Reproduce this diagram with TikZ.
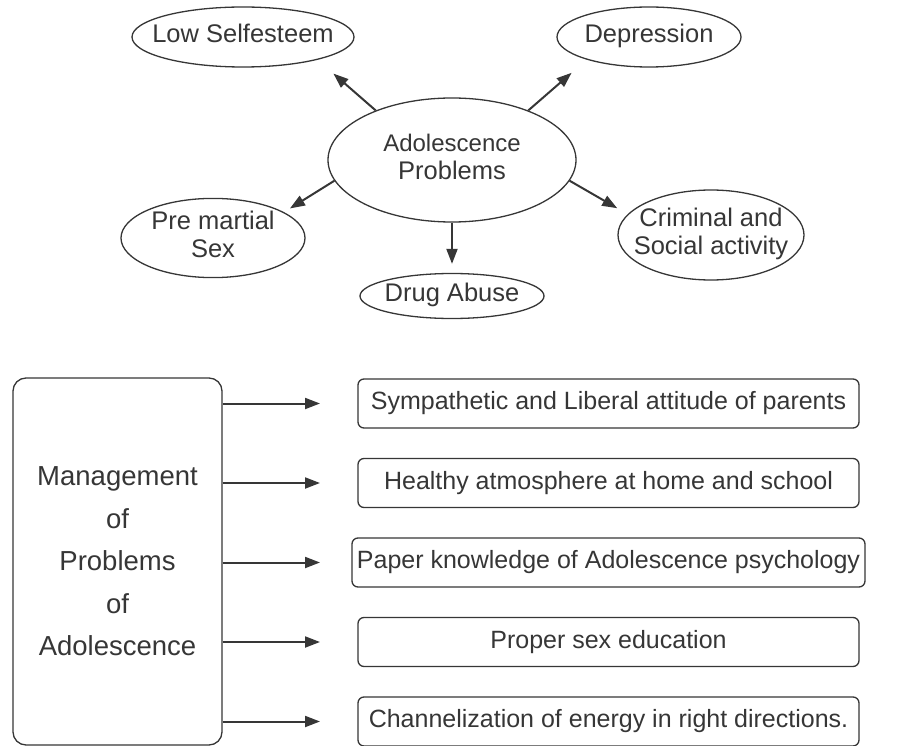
\documentclass[tikz,border=0pt]{standalone}
\usepackage{fontspec}
\setmainfont{Liberation Sans}
\usetikzlibrary{shapes,arrows.meta}
\definecolor{ink}{HTML}{363636}
\newcommand{\inell}[1]{\makebox[0pt]{\begin{tabular}{@{}c@{}}#1\end{tabular}}}
\tikzstyle{problem}=[ellipse,
	line width=1.3pt,
	draw=ink,
	text=ink,
	inner sep=0pt,
	font=\fontsize{25.5}{28}\selectfont]
\tikzstyle{remedy}=[rectangle,
	rounded corners=6pt,
	line width=1.3pt,
	draw=ink,
	text=ink,
	minimum width=501pt,
	minimum height=49pt,
	font=\fontsize{25}{28}\selectfont]
\tikzstyle{manage}=[rectangle,
	rounded corners=13pt,
	line width=1.3pt,
	draw=ink,
	text=ink,
	minimum width=209pt,
	minimum height=367pt,
	align=center,
	font=\fontsize{27.5}{42.5}\selectfont]
\tikzstyle{arr}=[-{Triangle[length=15pt,width=11pt]},
	line width=2pt,
	draw=ink]

\begin{document}
\begin{tikzpicture}[x=1pt,y=-1pt]
	\useasboundingbox (0,0) rectangle (913,746);

	% problems
	\node (adol) [problem, minimum width=248pt, minimum height=124pt] at (452,160) {\inell{\fontsize{24}{27}\selectfont Adolescence\\Problems}};
	\node (low) [problem, minimum width=222pt, minimum height=60pt] at (243,37) {\inell{Low Selfesteem}};
	\node (depr) [problem, minimum width=184pt, minimum height=60pt] at (649,37) {\inell{Depression}};
	\node (premarital) [problem, minimum width=184pt, minimum height=74pt] at (213,238) {\inell{Pre martial\\Sex}};
	\node (drug) [problem, minimum width=184pt, minimum height=45pt] at (452,296) {\inell{Drug Abuse}};
	\node (crime) [problem, minimum width=186pt, minimum height=90pt] at (711,235) {\inell{Criminal and\\Social activity}};

	\draw[arr, shorten >=21pt] (adol.147) -- (low.-17);
	\draw[arr, shorten >=20pt] (adol.33) -- (depr.200);
	\draw[arr, shorten >=7pt] (adol.190) -- (premarital.20);
	\draw[arr, shorten >=9pt] (adol.south) -- (drug.north);
	\draw[arr, shorten >=12pt] (adol.-10) -- (crime.166);

	% management
	\node (mgmt) [manage] at (117.5,561.5) {Management\\of\\Problems\\of\\Adolescence};
	\node (s1) [remedy] at (608.5,403.5) {Sympathetic and Liberal attitude of parents};
	\node (s2) [remedy, below of=s1, node distance=79.5pt] {Healthy atmosphere at home and school};
	\node (s3) [remedy, minimum width=513pt, below of=s2, node distance=79.5pt] {Paper knowledge of Adolescence psychology};
	\node (s4) [remedy, below of=s3, node distance=79.5pt] {Proper sex education};
	\node (s5) [remedy, below of=s4, node distance=79.5pt] {Channelization of energy in right directions.};

	\coordinate (tip) at (320,0);
	\draw[arr] (mgmt.east |- s1.west) -- (tip |- s1.west);
	\draw[arr] (mgmt.east |- s2.west) -- (tip |- s2.west);
	\draw[arr] (mgmt.east |- s3.west) -- (tip |- s3.west);
	\draw[arr] (mgmt.east |- s4.west) -- (tip |- s4.west);
	\draw[arr] (mgmt.east |- s5.west) -- (tip |- s5.west);
\end{tikzpicture}
\end{document}
